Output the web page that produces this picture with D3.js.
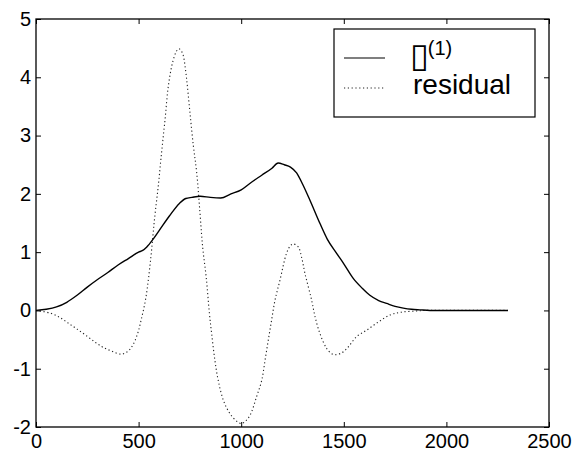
<!DOCTYPE html>
<html>
<head>
<meta charset="utf-8">
<script src="https://cdn.jsdelivr.net/npm/d3@7"></script>
<style>
  html, body { margin: 0; padding: 0; background: #fff; }
  svg { display: block; }
  text { font-family: "Liberation Sans", Arial, Helvetica, sans-serif; fill: #000; }
</style>
</head>
<body>
<svg id="chart" width="586" height="453"></svg>
<script>
// ---- data ----
const xTicks = [0, 500, 1000, 1500, 2000, 2500];
const yTicks = [-2, -1, 0, 1, 2, 3, 4, 5];

const solidX = [0, 50, 100, 150, 200, 250, 300, 350, 400, 450, 500, 520, 540, 570, 600, 650, 700, 730, 760, 800, 850, 900, 950, 1000, 1050, 1100, 1150, 1180, 1210, 1240, 1270, 1300, 1335, 1384, 1420, 1465, 1500, 1546, 1590, 1627, 1670, 1709, 1750, 1790, 1830, 1871, 1920, 2300];
const solidY = [0, 0.02, 0.06, 0.14, 0.26, 0.40, 0.53, 0.65, 0.78, 0.89, 1.00, 1.03, 1.09, 1.22, 1.37, 1.62, 1.84, 1.92, 1.94, 1.96, 1.94, 1.93, 2.00, 2.07, 2.20, 2.32, 2.44, 2.53, 2.50, 2.46, 2.36, 2.16, 1.89, 1.49, 1.22, 0.98, 0.80, 0.55, 0.38, 0.26, 0.17, 0.12, 0.07, 0.04, 0.02, 0.01, 0, 0];

const residX = [0, 73, 120, 162, 200, 244, 290, 325, 370, 414, 445, 471, 495, 512, 536, 560, 577, 596, 612, 629, 645, 666, 685, 697, 710, 718, 734, 750, 767, 783, 799, 812, 830, 845, 856, 872, 888, 913, 945, 981, 1002, 1020, 1043, 1075, 1100, 1116, 1132, 1148, 1165, 1189, 1221, 1240, 1254, 1278, 1295, 1311, 1343, 1360, 1384, 1416, 1440, 1457, 1489, 1521, 1562, 1611, 1668, 1724, 1780, 1855, 1900, 2300];
const residY = [0, -0.05, -0.13, -0.23, -0.32, -0.43, -0.55, -0.63, -0.70, -0.75, -0.71, -0.60, -0.40, -0.17, 0.23, 0.92, 1.55, 2.14, 2.71, 3.28, 3.85, 4.26, 4.45, 4.49, 4.44, 4.37, 3.97, 3.40, 2.82, 2.37, 1.68, 1.09, 0.55, -0.05, -0.40, -0.86, -1.20, -1.54, -1.77, -1.91, -1.94, -1.90, -1.80, -1.48, -1.20, -0.86, -0.51, -0.17, 0.18, 0.52, 0.98, 1.11, 1.14, 1.09, 0.90, 0.63, 0.18, -0.11, -0.40, -0.65, -0.74, -0.76, -0.73, -0.63, -0.45, -0.34, -0.20, -0.08, -0.03, -0.01, 0, 0];

const legendLabels = ["\u25AF", "residual"];
const legendSup = "(1)";

// ---- layout ----
const svg = d3.select("#chart");
const mLeft = 36, mRight = 549, mTop = 19, mBottom = 427;

const x = d3.scaleLinear().domain([0, 2500]).range([mLeft, mRight]);
const y = d3.scaleLinear().domain([-2, 5]).range([mBottom, mTop]);

// frame
svg.append("rect")
  .attr("x", mLeft).attr("y", mTop)
  .attr("width", mRight - mLeft).attr("height", mBottom - mTop)
  .attr("fill", "none").attr("stroke", "#000").attr("stroke-width", 1.3);

// axes (inner ticks, mirrored)
const tickLen = 5;
const fmt = d => String(d);
const axB = svg.append("g").attr("transform", `translate(0,${mBottom})`)
  .call(d3.axisBottom(x).tickValues(xTicks).tickSizeInner(-tickLen).tickSizeOuter(0).tickPadding(8).tickFormat(fmt));
const axL = svg.append("g").attr("transform", `translate(${mLeft},0)`)
  .call(d3.axisLeft(y).tickValues(yTicks).tickSizeInner(-tickLen).tickSizeOuter(0).tickPadding(5).tickFormat(fmt));
const axT = svg.append("g").attr("transform", `translate(0,${mTop})`)
  .call(d3.axisTop(x).tickValues(xTicks).tickSizeInner(-tickLen).tickSizeOuter(0).tickFormat(""));
const axR = svg.append("g").attr("transform", `translate(${mRight},0)`)
  .call(d3.axisRight(y).tickValues(yTicks).tickSizeInner(-tickLen).tickSizeOuter(0).tickFormat(""));

[axB, axL, axT, axR].forEach(g => {
  g.select(".domain").remove();
  g.selectAll(".tick line").attr("stroke", "#000").attr("stroke-width", 1);
  g.selectAll(".tick text")
    .style("font-family", '"Liberation Sans", Arial, Helvetica, sans-serif')
    .style("font-size", "20px").attr("fill", "#000");
});
axB.selectAll(".tick text").attr("dy", "0.75em").attr("y", 6);

// lines
const solidData = solidX.map((v, i) => [v, solidY[i]]);
const residData = residX.map((v, i) => [v, residY[i]]);

const lineSolid = d3.line().x(d => x(d[0])).y(d => y(d[1])).curve(d3.curveMonotoneX);
const lineSmooth = d3.line().x(d => x(d[0])).y(d => y(d[1])).curve(d3.curveCatmullRom.alpha(0.5));

svg.append("path").datum(residData)
  .attr("d", lineSmooth)
  .attr("fill", "none").attr("stroke", "#222").attr("stroke-width", 1.1)
  .attr("stroke-dasharray", "1.2,2.6");

svg.append("path").datum(solidData)
  .attr("d", lineSolid)
  .attr("fill", "none").attr("stroke", "#000").attr("stroke-width", 1.4)
  .attr("stroke-linejoin", "round");

// legend
const lg = svg.append("g");
lg.append("rect")
  .attr("x", 334).attr("y", 29).attr("width", 201).attr("height", 88)
  .attr("fill", "#fff").attr("stroke", "#000").attr("stroke-width", 1.2);
lg.append("line").attr("x1", 344).attr("x2", 385).attr("y1", 58).attr("y2", 58)
  .attr("stroke", "#000").attr("stroke-width", 1.2);
lg.append("line").attr("x1", 344).attr("x2", 385).attr("y1", 88).attr("y2", 88)
  .attr("stroke", "#222").attr("stroke-width", 1.1).attr("stroke-dasharray", "1.2,2.6");

// legend labels as one multi-line text element
const t1 = lg.append("text");
t1.append("tspan")
  .attr("x", 410).attr("y", 67)
  .style("font-family", '"DejaVu Sans", sans-serif')
  .style("font-size", "34px")
  .text(legendLabels[0]);
t1.append("tspan")
  .attr("dx", -1)
  .attr("dy", -12)
  .style("font-size", "20px")
  .text(legendSup);
t1.append("tspan")
  .attr("x", 413).attr("y", 94)
  .style("font-size", "28px")
  .text(legendLabels[1]);
</script>
</body>
</html>
